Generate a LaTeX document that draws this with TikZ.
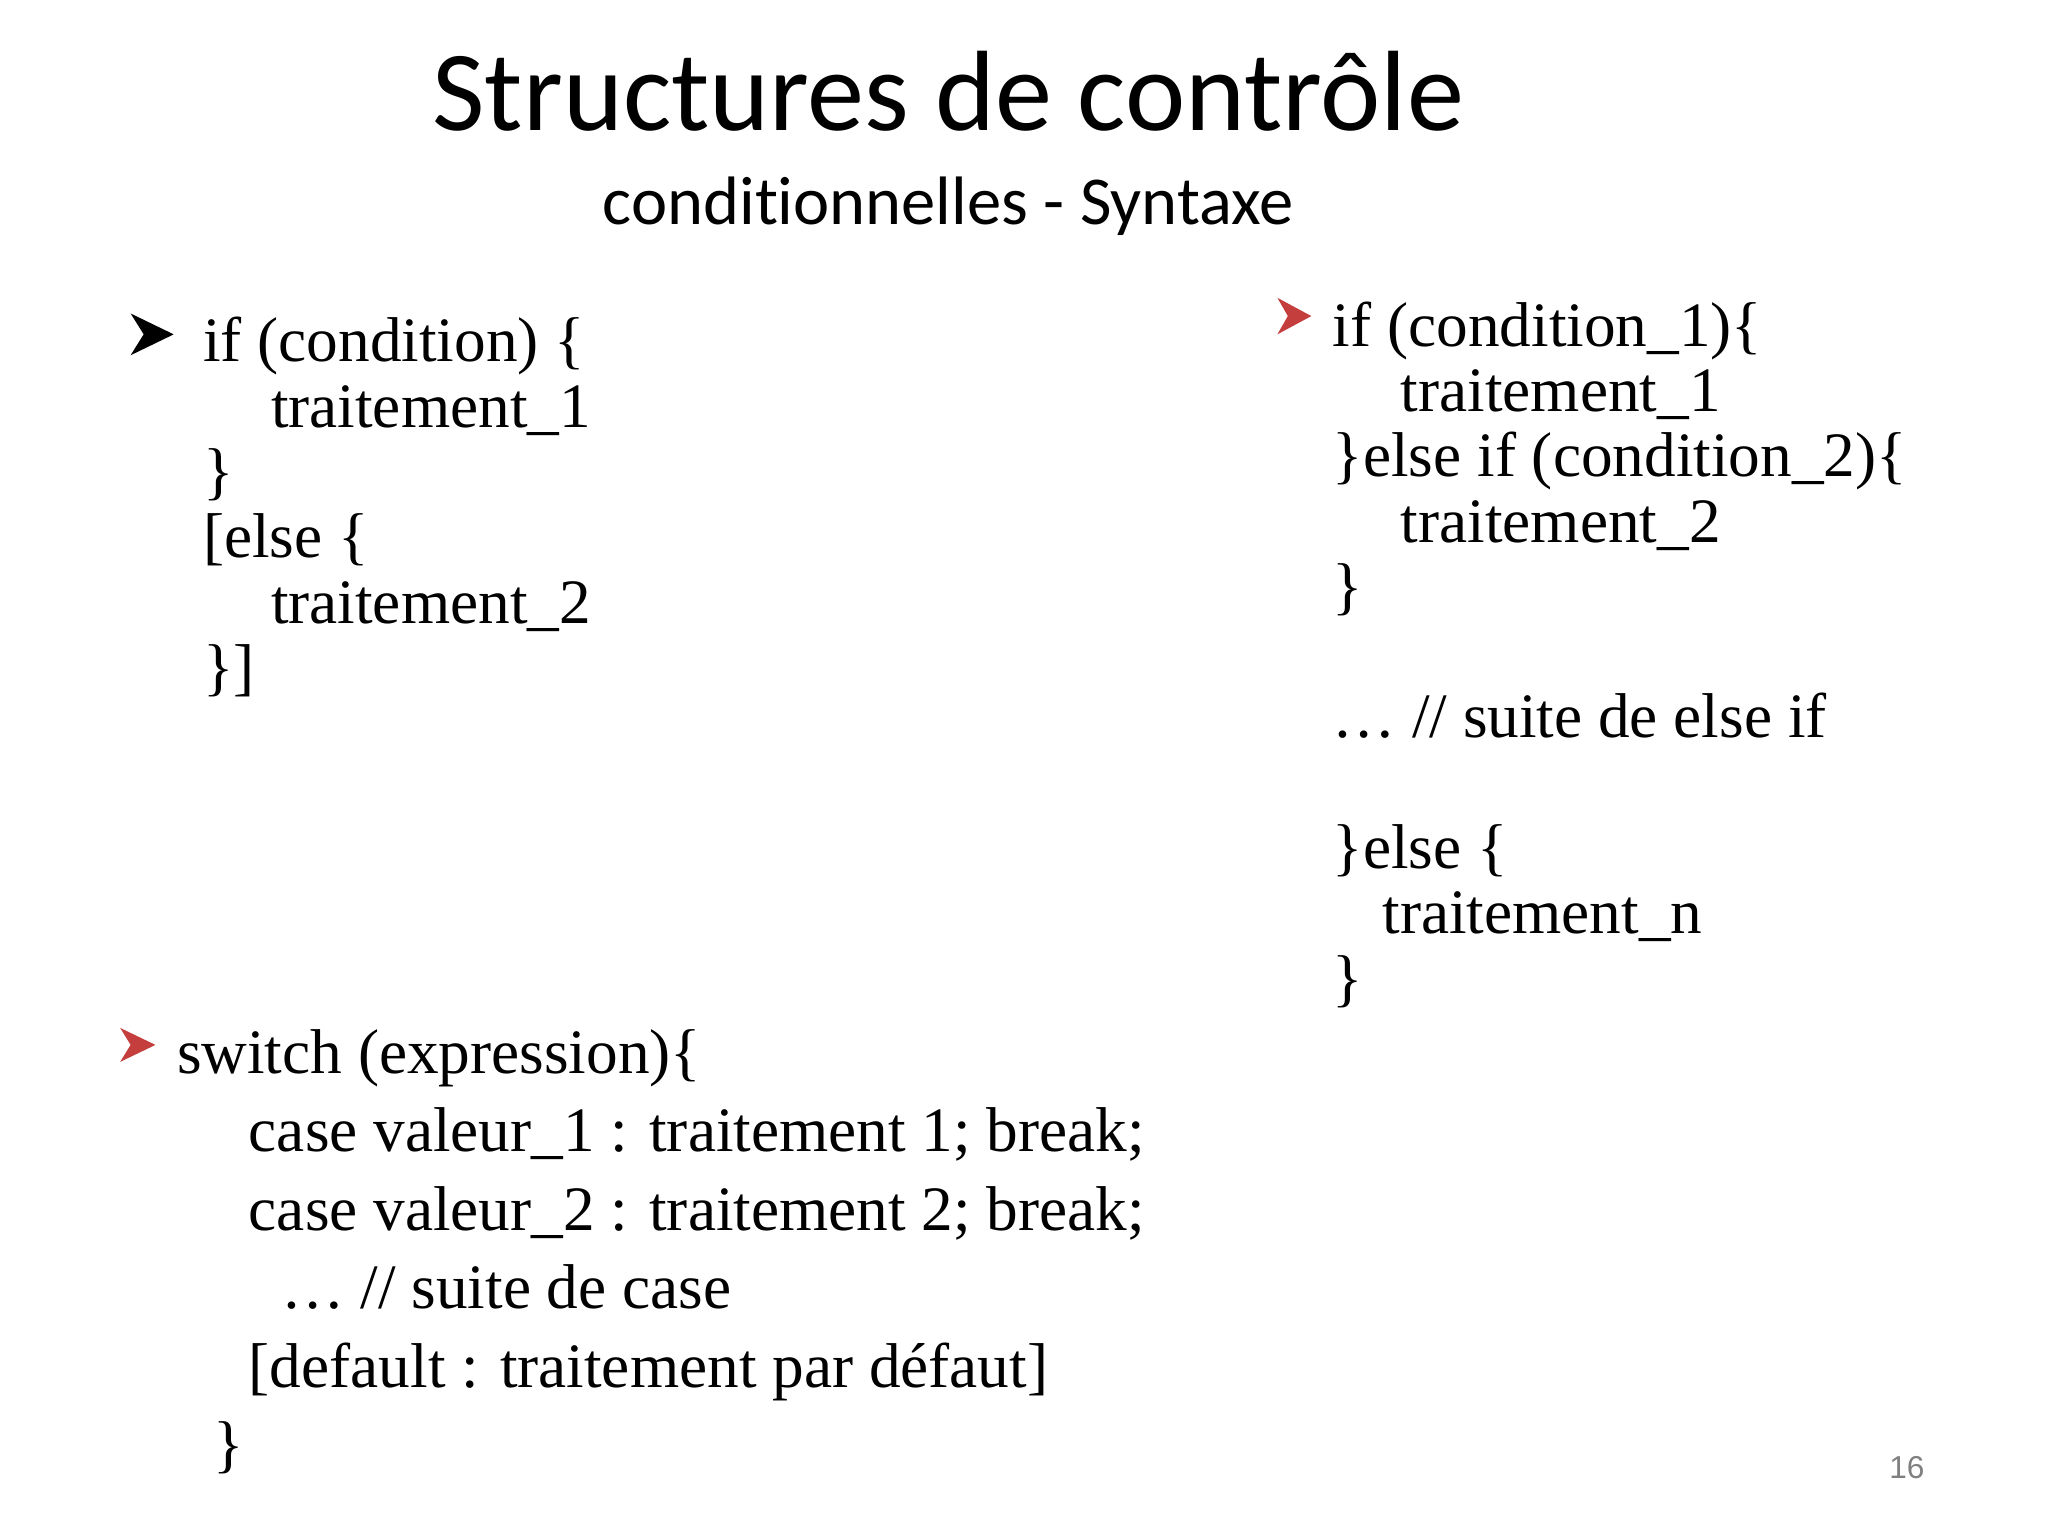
\documentclass[tikz,border=0pt]{standalone}
\usepackage{fontspec}
\setmainfont{Liberation Serif}
\newfontfamily\titlefont[Ligatures=NoCommon]{Carlito}
\newfontfamily\numfont{Liberation Sans}
\definecolor{arrred}{RGB}{196,62,62}
\begin{document}
\begin{tikzpicture}[x=0.0130612cm,y=-0.0130612cm,
  body/.style={anchor=base west,inner sep=0pt,font=\fontsize{18pt}{20pt}\selectfont}]
\fill[white] (0,0) rectangle (1568,1176);
\useasboundingbox (0,0) rectangle (1568,1176);
\node[inner sep=0pt,anchor=base,font=\titlefont\fontsize{32.5pt}{36pt}\selectfont] (title) at (726,100) {Structures de contrôle};
\node[inner sep=0pt,anchor=base,font=\titlefont\fontsize{19.5pt}{22pt}\selectfont] (sub) at (726,172) {conditionnelles - Syntaxe};
% bullets
\fill[black] (100,240) -- (133,256) -- (100,272) -- (110,256) -- cycle;
\fill[arrred] (978,228) -- (1004,242) -- (978,256) -- (986,242) -- cycle;
\fill[arrred] (92,787) -- (119,800) -- (92,813) -- (100,800) -- cycle;
% left if
\node[body] (a1) at (155,277) {if (condition) \{};
\node[body] (a2) at (207,327) {traitement\_1};
\node[body] (a3) at (155,377) {\}};
\node[body] (a4) at (155,427) {[else \{};
\node[body] (a5) at (207,477) {traitement\_2};
\node[body] (a6) at (155,527) {\}]};
% right
\node[body] (b1) at (1020,265) {if (condition\_1)\{};
\node[body] (b2) at (1072,315) {traitement\_1};
\node[body] (b3) at (1020,365) {\}else if (condition\_2)\{};
\node[body] (b4) at (1072,415) {traitement\_2};
\node[body] (b5) at (1020,465) {\}};
\node[body] (b6) at (1020,565) {… // suite de else if};
\node[body] (b7) at (1020,665) {\}else \{};
\node[body] (b8) at (1058,715) {traitement\_n};
\node[body] (b9) at (1020,765) {\}};
% switch
\node[body] (c1) at (135,822) {switch (expression)\{};
\node[body] (c2) at (190,882) {case valeur\_1 : traitement 1; break;};
\node[body] (c3) at (190,942) {case valeur\_2 : traitement 2; break;};
\node[body] (c4) at (215,1002) {… // suite de case};
\node[body] (c5) at (190,1062) {[default : traitement par défaut]};
\node[body] (c6) at (163,1122) {\}};
\node[inner sep=0pt,anchor=base,text=gray,font=\numfont\fontsize{9pt}{10pt}\selectfont] (num) at (1460,1132) {16};
\end{tikzpicture}
\end{document}
